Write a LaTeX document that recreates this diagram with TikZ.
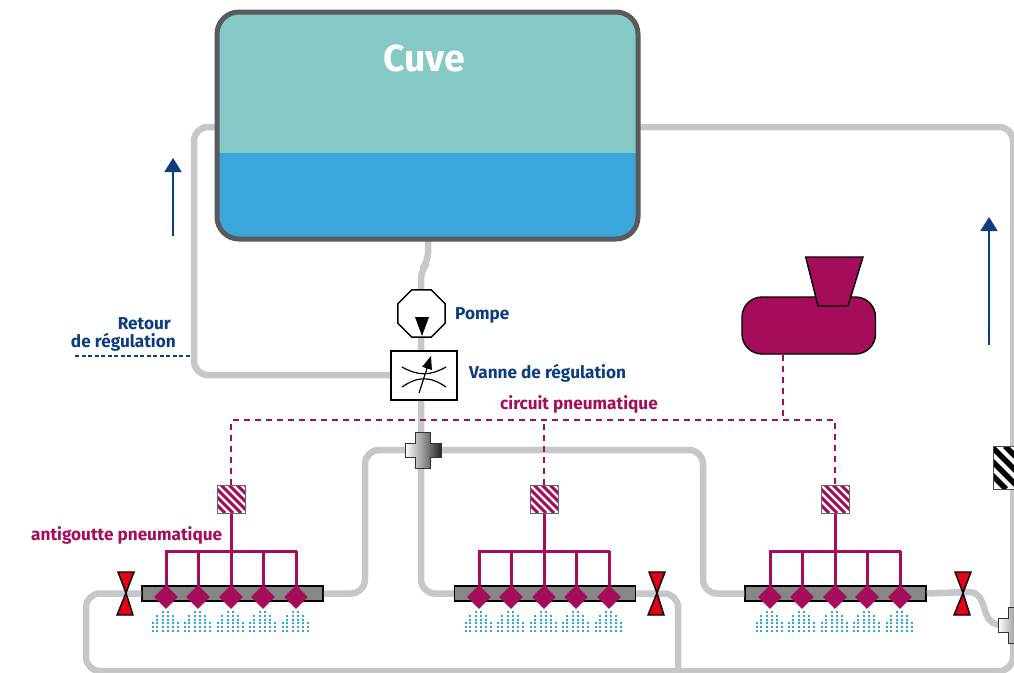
\documentclass[tikz,border=0pt]{standalone}
\usepackage{fontspec}
\setmainfont{Fira Sans}
\usetikzlibrary{arrows.meta,shapes.geometric}
\definecolor{pipe}{HTML}{C6C7C9}
\definecolor{tankline}{HTML}{5A5A5C}
\definecolor{teal}{HTML}{85C9C6}
\definecolor{water}{HTML}{39A7DC}
\definecolor{mag}{HTML}{A50D5A}
\definecolor{navy}{HTML}{0A3D82}
\definecolor{redv}{HTML}{E2001A}
\definecolor{drop}{HTML}{29A9E0}
\definecolor{barg}{HTML}{878787}
\tikzset{
  x=1pt,y=-1pt,
  pipeline/.style={draw=pipe,line width=6.5pt,rounded corners=14pt},
  dashmag/.style={draw=mag,line width=1.6pt,dash pattern=on 6pt off 5pt},
  feed/.style={draw=mag,line width=3pt},
  navytext/.style={text=navy,font=\bfseries\fontsize{17.2}{19}\selectfont,inner sep=0pt},
  magtext/.style={text=mag,font=\bfseries\fontsize{17.2}{19}\selectfont,inner sep=0pt},
  hatchbox/.style={draw=black!60,line width=1pt,fill=white,minimum size=28pt,inner sep=0pt,
    path picture={\foreach \k in {-28,-20,...,28}
      \draw[mag,line width=3pt] ([xshift=\k pt]path picture bounding box.north west) -- ++(28pt,-28pt);}},
  blackhatch/.style={draw=black!70,line width=1pt,fill=white,minimum size=43pt,inner sep=0pt,
    path picture={\foreach \k in {-44,-30,...,44}
      \draw[black,line width=5.5pt] ([xshift=\k pt]path picture bounding box.north west) -- ++(43pt,-43pt);}},
  barbox/.style={draw=black,line width=1.5pt,fill=barg,minimum width=181pt,minimum height=15pt,inner sep=0pt},
  nozzle/.style={diamond,fill=mag,minimum size=24pt,inner sep=0pt},
  bow/.style={fill=redv,draw=black,line width=1.4pt,line join=miter},
  flow/.style={draw=navy,line width=1.6pt,-{Triangle[length=14pt,width=17pt]}},
  crossshape/.style={draw=black!80,line width=1pt,left color=white,right color=black!85,middle color=black!40}
}
\newcommand{\sprayat}[1]{%
  \foreach \dx/\rows in {-13/2,-9/4,-3/5,2/5,7/4,12/2}{
    \foreach \r in {0,...,\rows}{
      \fill[drop] (#1+\dx-1,631-\r*3.8-1) rectangle ++(2,2);
    }
  }%
}
\newcommand{\crossat}[2]{%
  \path[crossshape] (#1-18,#2-7) -- (#1-8,#2-7) -- (#1-8,#2-18) -- (#1+7,#2-18) -- (#1+7,#2-7) -- (#1+18,#2-7)
   -- (#1+18,#2+7) -- (#1+7,#2+7) -- (#1+7,#2+18) -- (#1-8,#2+18) -- (#1-8,#2+7) -- (#1-18,#2+7) -- cycle;%
}
\newcommand{\redvalve}[1]{%
  \path[bow] (#1-8,572) -- (#1+8,572) -- (#1,593) -- cycle;
  \path[bow] (#1-9,615) -- (#1+7,615) -- (#1,593) -- cycle;%
}
\begin{document}
\begin{tikzpicture}
\clip (0,0) rectangle (1014,672);
\fill[white] (0,0) rectangle (1014,672);
% named anchors
\coordinate (tankL) at (217,127);
\coordinate (tankR) at (638,127);
\coordinate (tankB) at (428,239);
\node[barbox] (bar1) at (232.5,593.5) {};
\node[barbox] (bar2) at (545,593.5) {};
\node[barbox] (bar3) at (835.5,593.5) {};
\coordinate (crossC) at (423,450);
\coordinate (crossR) at (1016,625);
% pipes
\draw[pipeline] (tankL) -- (194,127) -- (194,375) -- (392,375);
\draw[pipeline] (bar1.west) -- (86,593.5) -- (86,671) -- (1013,671) -- (1013,127) -- (tankR);
\draw[pipeline] (678,671) -- (678,593.5) -- (bar2.east);
\draw[pipeline,rounded corners=9pt] (tankB) -- (428,262) -- (421,270) -- (421,450);
\draw[pipeline] (421,450) -- (421,593.5) -- (bar2.west);
\draw[pipeline] (bar1.east) -- (365,593.5) -- (365,450) -- (crossC);
\draw[pipeline] (crossC) -- (703,450) -- (703,593.5) -- (bar3.west);
\draw[pipeline,rounded corners=0pt] (bar3.east) -- (968,592) .. controls (990,592) and (978,623) .. (1000,625);
% tank
\begin{scope}
\clip[rounded corners=22pt] (217,12) rectangle (638,239);
\fill[teal] (217,12) rectangle (638,153);
\fill[water] (217,153) rectangle (638,239);
\end{scope}
\node[draw=none,text=white,font=\bfseries\fontsize{37.5}{41}\selectfont,inner sep=0pt] (cuve) at (424.5,59) {Cuve};
\draw[tankline,line width=5pt,rounded corners=22pt] (217,12) rectangle (638,239);
% pump
\node[regular polygon,regular polygon sides=8,draw=black,line width=1.4pt,fill=white,minimum size=51pt,inner sep=0pt] (pump) at (421.5,313.5) {};
\fill[black] (415,317) -- (429,317) -- (422,336) -- cycle;
% valve
\node[draw=black,line width=1.5pt,fill=white,minimum width=66pt,minimum height=49pt,inner sep=0pt] (valve) at (424,375.5) {};
\draw[black,line width=1.2pt] (402,367) .. controls (418,376) and (430,376) .. (446,367);
\draw[black,line width=1.2pt] (402,387) .. controls (418,376) and (430,376) .. (446,387);
\draw[black,line width=1.2pt,-{Triangle[length=13pt,width=10pt]}] (419,393) -- (431,356);
% cross
\crossat{423}{450}
\crossat{1016}{625}
% air tank
\coordinate (airB) at (783,355);
\coordinate (airJ) at (783,420);
\draw[draw=black,fill=mag,line width=1.4pt,rounded corners=20pt] (742,297) rectangle (875.5,354);
\draw[draw=black,fill=mag,line width=1.4pt] (805.7,257) -- (863,257) -- (848,306) -- (818,306) -- cycle;
% hatch boxes
\node[hatchbox] (h1) at (231,499) {};
\node[hatchbox] (h2) at (544,499) {};
\node[hatchbox] (h3) at (835,499) {};
\node[blackhatch] (h4) at (1014.5,467.5) {};
% dashed
\draw[dashmag] (airB) -- (airJ);
\draw[dashmag] (h1.north) -- (231,420) -- (835,420) -- (h3.north);
\draw[dashmag] (h2.north) -- (h2.north |- airJ);
% manifolds
\foreach \cx/\hh in {231/h1,544/h2,835/h3}{
  \foreach \d in {-65,-33,0,32,65}{
    \draw[feed] (\cx+\d,551) -- (\cx+\d,597);
    \node[nozzle] at (\cx+\d,597) {};
    \sprayat{\cx+\d}
  }
  \draw[feed] (\hh.south) -- (\cx,551);
  \draw[feed] (\cx-66,551) -- (\cx+66,551);
}
% valves
\redvalve{126}
\redvalve{657}
\redvalve{963}
% arrows
\coordinate (a1s) at (173,236); \coordinate (a1e) at (173,158);
\coordinate (a2s) at (989,345); \coordinate (a2e) at (989,217);
\draw[flow] (a1s) -- (a1e);
\draw[flow] (a2s) -- (a2e);
\coordinate (r1) at (75,356); \coordinate (r2) at (190,356);
\draw[draw=navy,line width=1.2pt,dash pattern=on 4pt off 2.5pt] (r1) -- (r2);
% labels
\node[navytext,anchor=base east] (t1) at (171,329) {Retour};
\node[navytext,anchor=base east] (t2) at (176,347) {de régulation};
\node[navytext,anchor=base west] (t3) at (455,319.5) {Pompe};
\node[navytext,anchor=base west] (t4) at (469,378.5) {Vanne de régulation};
\node[magtext,anchor=base west] (t5) at (500,409) {circuit pneumatique};
\node[magtext,anchor=base west] (t6) at (31,540) {antigoutte pneumatique};
\end{tikzpicture}
\end{document}
